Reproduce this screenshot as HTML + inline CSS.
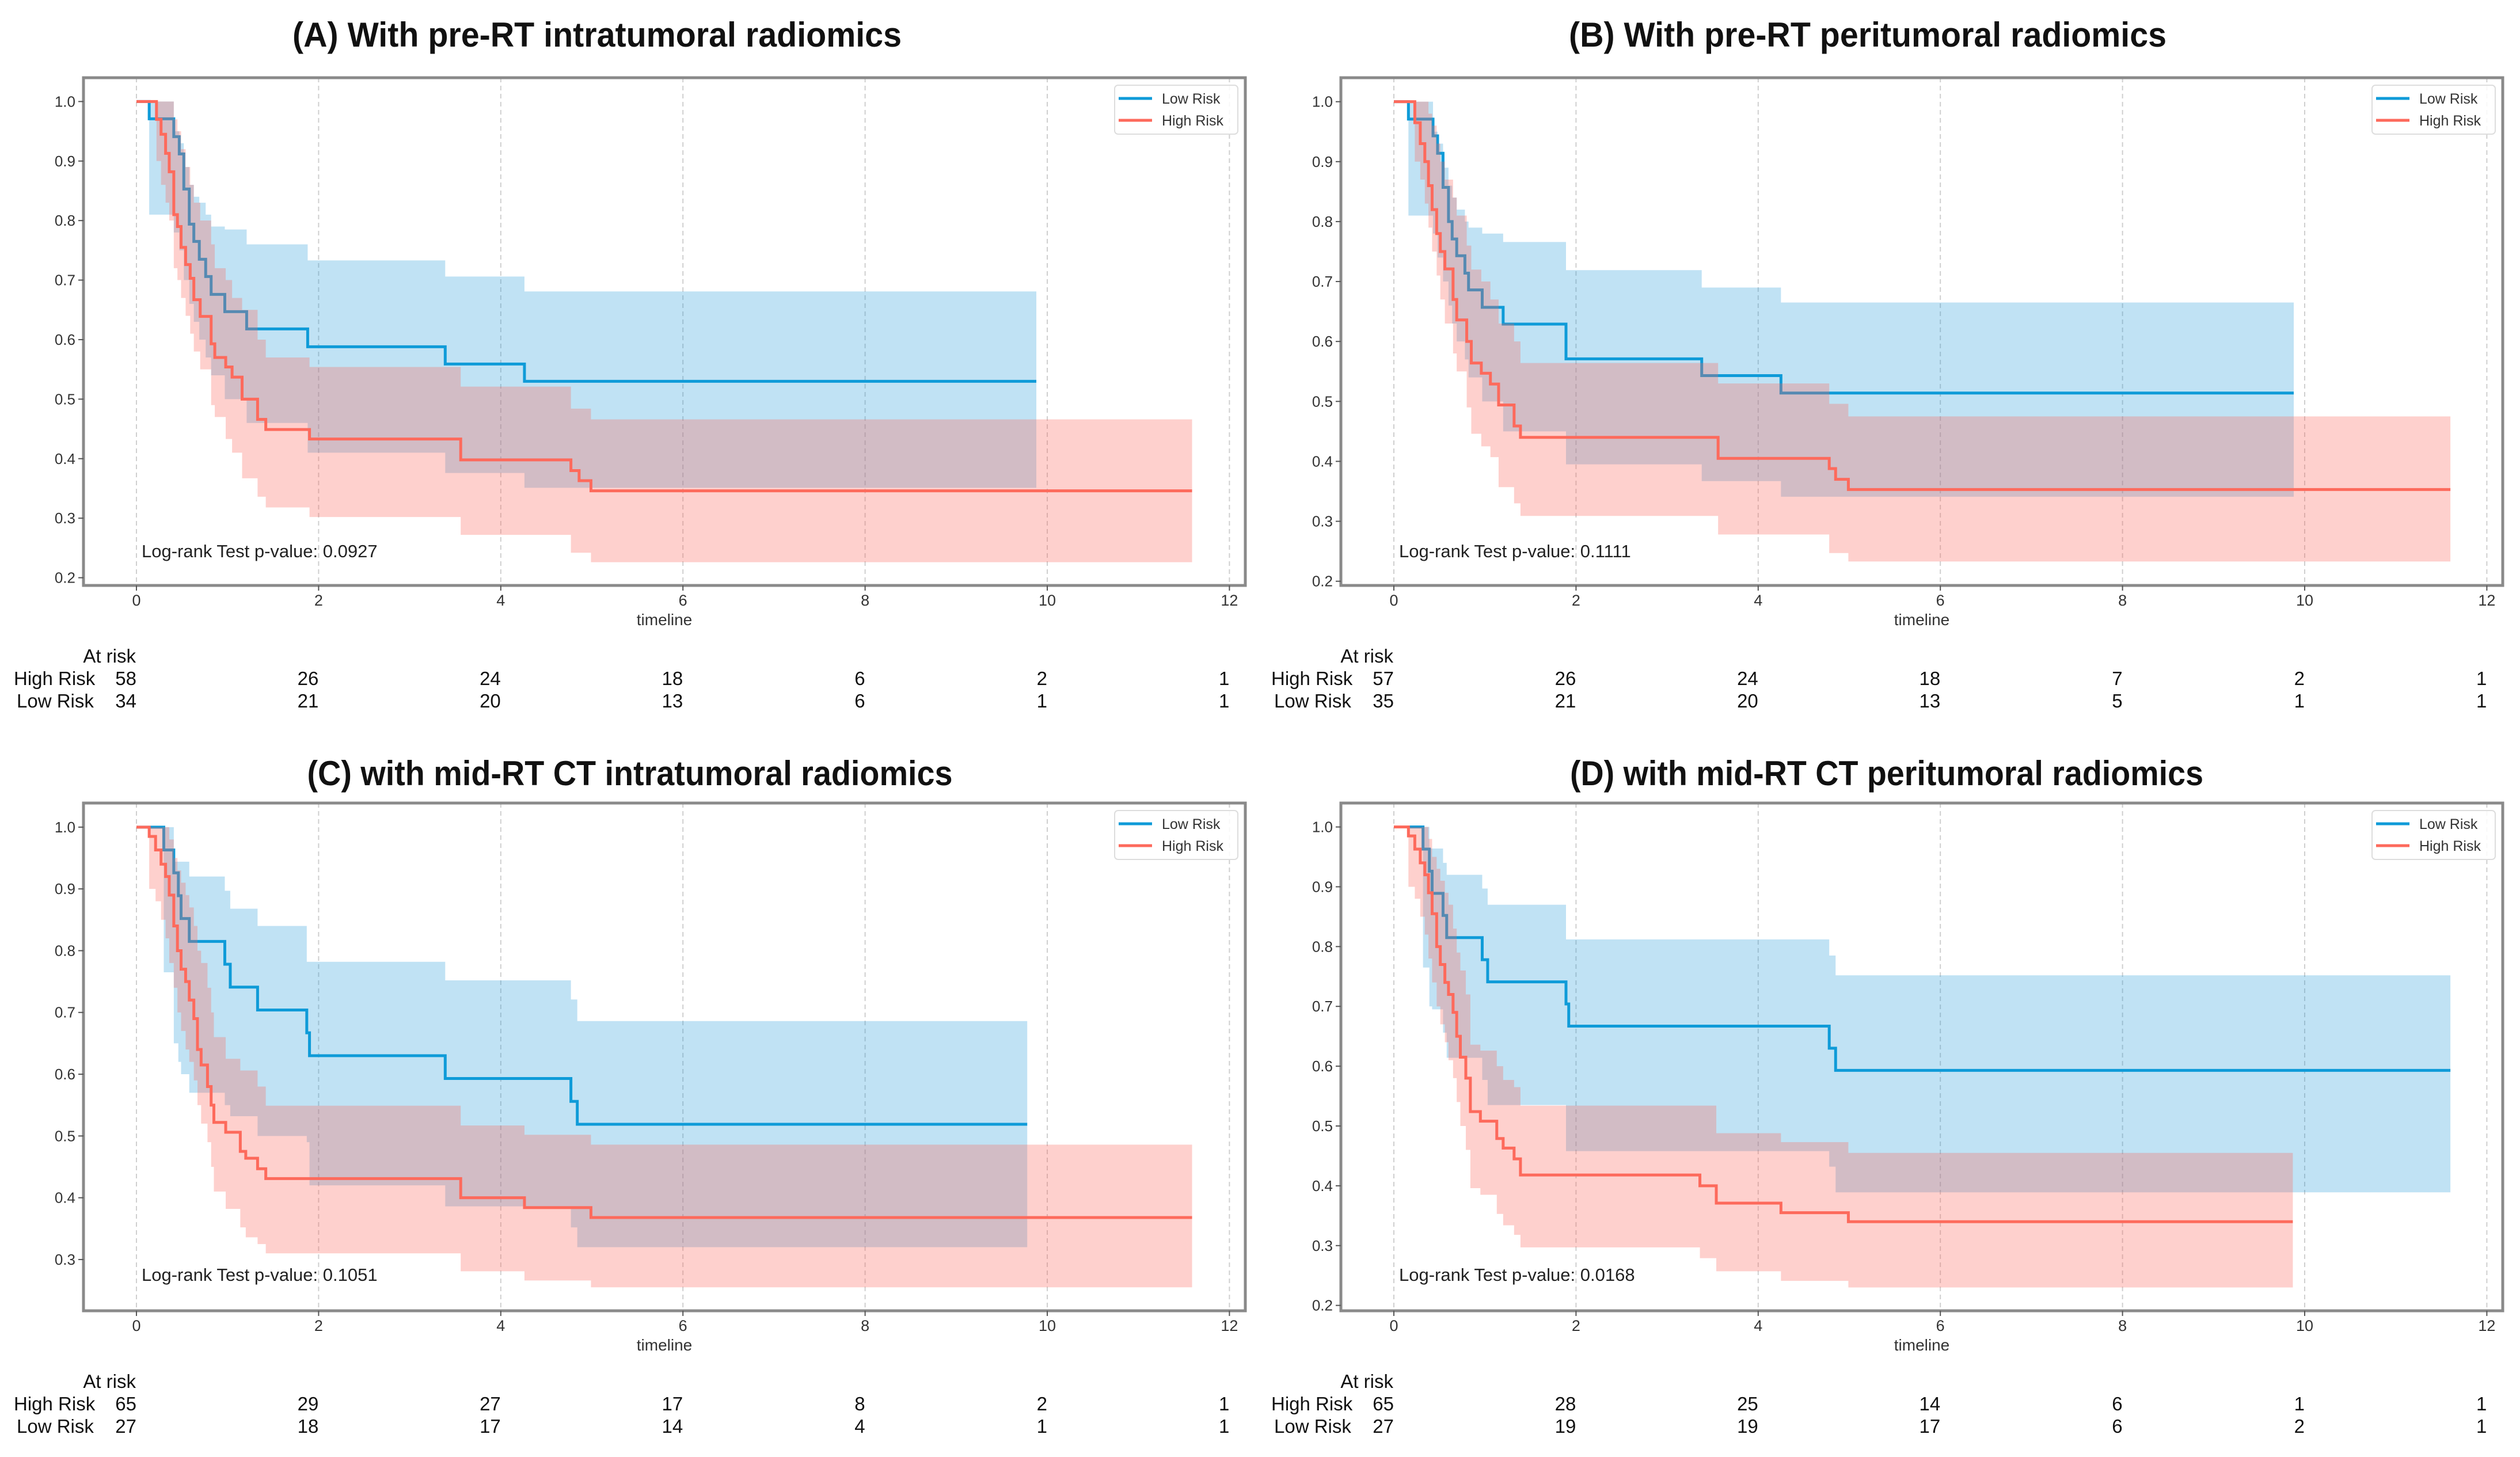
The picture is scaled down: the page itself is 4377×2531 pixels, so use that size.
<!DOCTYPE html>
<html><head><meta charset="utf-8"><style>
html,body{margin:0;padding:0;background:#fff;}
svg{display:block;}
text{font-family:"Liberation Sans",sans-serif;}
</style></head><body>
<svg id="fig" xmlns="http://www.w3.org/2000/svg" width="4377" height="2531" viewBox="0 0 4377 2531"></svg>
<script>
// ---------- Data ----------
const panelTitles = ["(A) With pre-RT intratumoral  radiomics","(B) With pre-RT peritumoral  radiomics","(C) with mid-RT CT intratumoral radiomics","(D) with mid-RT CT peritumoral radiomics"];
const pValues = ["0.0927","0.1111","0.1051","0.0168"];
const xTicks = [0,2,4,6,8,10,12];
const yTicksA = [0.2,0.3,0.4,0.5,0.6,0.7,0.8,0.9,1.0];
const yTicksC = [0.3,0.4,0.5,0.6,0.7,0.8,0.9,1.0];
const yRangeA = [0.187,1.040];
const yRangeB = [0.193,1.040];
const yRangeC = [0.217,1.039];
const yRangeD = [0.191,1.040];
const atRiskHighA = [58,26,24,18,6,2,1];
const atRiskLowA = [34,21,20,13,6,1,1];
const atRiskHighB = [57,26,24,18,7,2,1];
const atRiskLowB = [35,21,20,13,5,1,1];
const atRiskHighC = [65,29,27,17,8,2,1];
const atRiskLowC = [27,18,17,14,4,1,1];
const atRiskHighD = [65,28,25,14,6,1,1];
const atRiskLowD = [27,19,19,17,6,2,1];

// Panel A
const lowTA = [0,.14,.41,.47,.52,.58,.63,.69,.76,.82,.97,1.21,1.88,3.39,4.26];
const lowSA = [1,.971,.941,.912,.853,.794,.765,.735,.706,.676,.647,.618,.588,.559,.530];
const lowUA = [1,1,.95,.93,.89,.86,.84,.83,.81,.79,.785,.76,.733,.706,.681];
const lowLA = [1,.81,.78,.75,.70,.66,.63,.60,.57,.54,.50,.46,.41,.376,.351];
const lowEndA = 9.88;
const highTA = [0,.22,.27,.32,.36,.41,.45,.49,.54,.59,.63,.70,.82,.86,.98,1.05,1.16,1.33,1.42,1.90,3.56,4.77,4.86,4.99];
const highSA = [1,.97,.945,.913,.882,.81,.79,.755,.726,.703,.667,.639,.593,.57,.554,.537,.50,.466,.449,.433,.398,.38,.363,.346];
const highUA = [1,1,1,1,1,.97,.95,.92,.89,.86,.83,.80,.76,.72,.70,.67,.65,.60,.57,.554,.521,.484,.484,.466];
const highLA = [1,.90,.86,.83,.80,.72,.70,.67,.64,.61,.58,.55,.49,.47,.433,.41,.367,.336,.318,.302,.272,.242,.242,.226];
const highEndA = 11.59;
// Panel B
const lowTB = [0,.16,.43,.48,.54,.60,.64,.69,.78,.82,.97,1.20,1.89,3.38,4.25];
const lowSB = [1,.971,.943,.914,.857,.80,.771,.743,.714,.686,.657,.629,.571,.543,.514];
const lowUB = [1,1,.95,.93,.89,.86,.84,.82,.80,.79,.78,.766,.719,.69,.665];
const lowLB = [1,.81,.78,.74,.70,.66,.63,.60,.57,.54,.50,.45,.395,.367,.341];
const lowEndB = 9.88;
const highTB = [0,.23,.29,.34,.38,.42,.47,.51,.56,.65,.69,.80,.85,.96,1.06,1.15,1.32,1.39,3.56,4.78,4.85,4.99];
const highSB = [1,.965,.93,.90,.86,.82,.78,.75,.721,.67,.636,.60,.564,.547,.529,.494,.459,.44,.405,.388,.37,.353];
const highUB = [1,1,1,1,.98,.96,.93,.90,.87,.84,.81,.76,.72,.70,.67,.63,.60,.564,.53,.496,.496,.475];
const highLB = [1,.90,.87,.83,.79,.75,.71,.67,.63,.58,.55,.49,.446,.425,.407,.357,.33,.309,.278,.247,.247,.233];
const highEndB = 11.6;
// Panel C
const lowTC = [0,.30,.41,.46,.49,.58,.97,1.03,1.33,1.87,1.90,3.39,4.77,4.84];
const lowSC = [1,.963,.926,.889,.852,.815,.778,.741,.704,.667,.630,.593,.556,.519];
const lowUC = [1,1,.944,.944,.944,.92,.897,.868,.84,.782,.782,.752,.721,.686];
const lowLC = [1,.765,.65,.62,.60,.57,.55,.532,.50,.49,.42,.386,.352,.32];
const lowEndC = 9.78;
const highTC = [0,.14,.21,.27,.32,.36,.41,.45,.49,.54,.58,.63,.67,.71,.78,.82,.85,.98,1.14,1.20,1.33,1.42,3.56,4.26,4.99];
const highSC = [1,.985,.963,.94,.92,.89,.84,.80,.77,.75,.72,.69,.64,.615,.58,.55,.522,.506,.475,.464,.447,.431,.40,.384,.368];
const highUC = [1,1,1,1,1,.98,.95,.93,.91,.89,.87,.84,.80,.78,.74,.70,.66,.625,.606,.606,.58,.549,.517,.502,.486];
const highLC = [1,.90,.88,.85,.82,.78,.74,.70,.67,.64,.62,.59,.55,.52,.49,.45,.41,.382,.352,.336,.325,.31,.281,.266,.255];
const highEndC = 11.59;
// Panel D
const lowTD = [0,.32,.39,.42,.54,.58,.97,1.03,1.89,1.92,4.78,4.85];
const lowSD = [1,.963,.926,.889,.852,.815,.778,.741,.704,.667,.630,.593];
const lowUD = [1,1,.964,.964,.94,.92,.897,.87,.812,.812,.785,.752];
const lowLD = [1,.765,.70,.695,.656,.614,.577,.535,.458,.458,.432,.389];
const lowEndD = 11.6;
const highTD = [0,.16,.23,.29,.34,.38,.42,.47,.51,.56,.60,.65,.69,.73,.79,.84,.95,1.13,1.2,1.32,1.39,3.36,3.54,4.25,4.99];
const highSD = [1,.985,.963,.94,.92,.89,.855,.80,.77,.74,.72,.69,.65,.615,.58,.524,.508,.479,.463,.445,.418,.40,.371,.355,.34];
const highUD = [1,1,1,1,1,.98,.95,.93,.91,.89,.87,.83,.79,.76,.72,.636,.626,.60,.577,.565,.534,.534,.488,.473,.455];
const highLD = [1,.90,.88,.85,.82,.78,.74,.70,.67,.64,.61,.58,.54,.50,.46,.396,.385,.353,.334,.318,.297,.279,.257,.241,.23];
const highEndD = 9.87;

// ---------- Layout ----------
const NS = "http://www.w3.org/2000/svg";
const svg = document.getElementById('fig');
const FL = 145, FR = 2163, FT = 135, FB = 1017;
const X0 = 237, XU = 158.2;
const BLUE = "#0f9bd8", RED = "#fd6a5c";

function mk(tag, attrs, parent) {
  const e = document.createElementNS(NS, tag);
  for (const k in attrs) e.setAttribute(k, attrs[k]);
  parent.appendChild(e);
  return e;
}
function txt(parent, x, y, s, size, anchor, extra) {
  const t = mk('text', Object.assign({x: x, y: y, 'font-size': size, 'text-anchor': anchor || 'start', fill: '#222'}, extra || {}), parent);
  t.textContent = s;
  return t;
}

const panels = [
  {ox:0, oy:0, yr:yRangeA, yt:yTicksA, tb:81, tc:1037, tw:1058, ar:[atRiskHighA, atRiskLowA],
   low:[lowTA,lowSA,lowUA,lowLA,lowEndA], high:[highTA,highSA,highUA,highLA,highEndA]},
  {ox:2184, oy:0, yr:yRangeB, yt:yTicksA, tb:81, tc:1060, tw:1038, ar:[atRiskHighB, atRiskLowB],
   low:[lowTB,lowSB,lowUB,lowLB,lowEndB], high:[highTB,highSB,highUB,highLB,highEndB]},
  {ox:0, oy:1260, yr:yRangeC, yt:yTicksC, tb:104, tc:1094, tw:1121, ar:[atRiskHighC, atRiskLowC],
   low:[lowTC,lowSC,lowUC,lowLC,lowEndC], high:[highTC,highSC,highUC,highLC,highEndC]},
  {ox:2184, oy:1260, yr:yRangeD, yt:yTicksA, tb:104, tc:1093, tw:1100, ar:[atRiskHighD, atRiskLowD],
   low:[lowTD,lowSD,lowUD,lowLD,lowEndD], high:[highTD,highSD,highUD,highLD,highEndD]}
];
const letters = ['a','b','c','d'];

panels.forEach(function(p, pi) {
  const g = mk('g', {transform: 'translate(' + p.ox + ',' + p.oy + ')'}, svg);
  
  
  const xs = function(t){ return X0 + t * XU; };
  const ys = function(v){ return FT + (p.yr[1] - v) / (p.yr[1] - p.yr[0]) * (FB - FT); };

  const title = txt(g, p.tc, p.tb, panelTitles[pi], 60, 'middle', {'font-weight':'bold', fill:'#111', textLength:p.tw, lengthAdjust:'spacingAndGlyphs'});
  
  

  xTicks.forEach(function(t) {
    const gl = mk('line', {x1:xs(t), x2:xs(t), y1:FT, y2:FB, stroke:'#cfcfcf', 'stroke-width':2, 'stroke-dasharray':'8,6'}, g);
    
    
  });

  function band(series, fill, name) {
    const T = series[0], U = series[2], L = series[3], E = series[4];
    let d = 'M' + xs(T[0]) + ',' + ys(U[0]);
    for (let i = 0; i < T.length; i++) {
      const xe = xs(i + 1 < T.length ? T[i+1] : E);
      d += ' V' + ys(U[i]) + ' H' + xe;
    }
    for (let i = T.length - 1; i >= 0; i--) {
      d += ' V' + ys(L[i]) + ' H' + xs(T[i]);
    }
    d += ' Z';
    const b = mk('path', {d: d, fill: fill}, g);
    
    
  }
  function line(series, col, name) {
    const T = series[0], S = series[1], E = series[4];
    let d = 'M' + xs(T[0]) + ',' + ys(S[0]);
    for (let i = 0; i < T.length; i++) {
      const xe = xs(i + 1 < T.length ? T[i+1] : E);
      d += ' V' + ys(S[i]) + ' H' + xe;
    }
    const l = mk('path', {d: d, fill: 'none', stroke: col, 'stroke-width': 5}, g);
    
    
  }
  band(p.low, 'rgba(30,150,215,0.28)', 'low-risk-ci-band');
  line(p.low, BLUE, 'low-risk-curve');
  band(p.high, 'rgba(252,100,90,0.30)', 'high-risk-ci-band');
  line(p.high, RED, 'high-risk-curve');

  const fr = mk('rect', {x:FL, y:FT, width:FR-FL, height:FB-FT, fill:'none', stroke:'#8a8a8a', 'stroke-width':5}, g);
  
  

  xTicks.forEach(function(t) {
    mk('line', {x1:xs(t), x2:xs(t), y1:FB, y2:FB+9, stroke:'#555', 'stroke-width':2}, g);
    const tl = txt(g, xs(t), 1052, String(t), 27, 'middle', {fill:'#333'});
    
    
  });
  const xt = txt(g, (FL + FR) / 2, 1086, 'timeline', 28, 'middle', {fill:'#333'});
  
  

  p.yt.forEach(function(v) {
    mk('line', {x1:FL-9, x2:FL, y1:ys(v), y2:ys(v), stroke:'#555', 'stroke-width':2}, g);
    const yl = txt(g, FL-14, ys(v)+9, v.toFixed(1), 26, 'end', {fill:'#333'});
    
    
  });

  const pv = txt(g, 246, p.oy === 0 ? 968 : 965, 'Log-rank Test p-value: ' + pValues[pi], 31, 'start', {fill:'#222'});
  
  

  const lg = mk('g', {}, g);
  
  
  mk('rect', {x:1936, y:148, width:214, height:85, rx:6, fill:'#fff', 'fill-opacity':0.85, stroke:'#ddd', 'stroke-width':2}, lg);
  const l1 = mk('line', {x1:1943, x2:2001, y1:171, y2:171, stroke:BLUE, 'stroke-width':5}, lg);
  
  
  txt(lg, 2018, 180, 'Low Risk', 25, 'start', {fill:'#333'});
  const l2 = mk('line', {x1:1943, x2:2001, y1:209, y2:209, stroke:RED, 'stroke-width':5}, lg);
  
  
  txt(lg, 2018, 218, 'High Risk', 25, 'start', {fill:'#333'});

  const at = mk('g', {}, g);
  
  
  txt(at, 236, 1151, 'At risk', 33, 'end', {fill:'#111'});
  txt(at, 24, 1190, 'High Risk', 33, 'start', {fill:'#111'});
  txt(at, 29, 1229, 'Low Risk', 33, 'start', {fill:'#111'});
  xTicks.forEach(function(t, i) {
    const a = txt(at, xs(t), 1190, String(p.ar[0][i]), 33, 'end', {fill:'#111'});
    
    
    const b = txt(at, xs(t), 1229, String(p.ar[1][i]), 33, 'end', {fill:'#111'});
    
    
  });
});
</script>
</body></html>
